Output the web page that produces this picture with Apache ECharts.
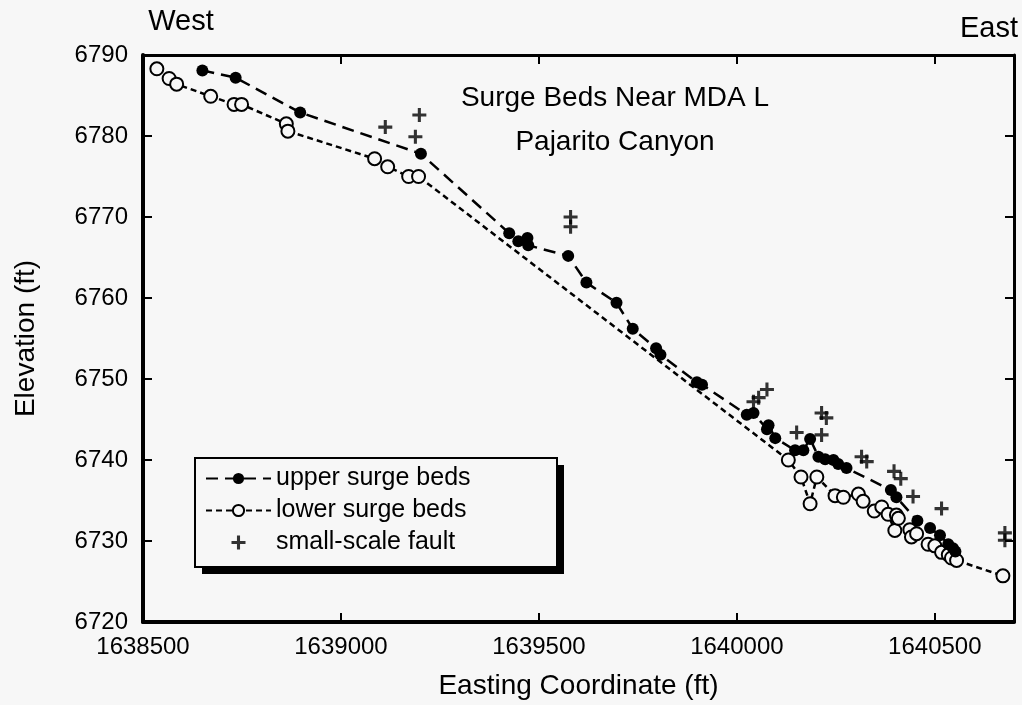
<!DOCTYPE html>
<html>
<head>
<meta charset="utf-8">
<script src="https://cdn.jsdelivr.net/npm/echarts@6/dist/echarts.min.js"></script>
<style>
html,body{margin:0;padding:0;background:#f7f7f7;}
#chart{width:1022px;height:705px;}
</style>
</head>
<body>
<div id="chart"></div>
<script>
// ---- data (easting ft, elevation ft) ----
const upperEasting = [1638650,1638734,1638897,1639202,1639425,1639448,1639471,1639473,1639574,1639620,1639696,1639737,1639796,1639807,1639899,1639912,1640025,1640042,1640076,1640080,1640097,1640147,1640168,1640185,1640206,1640223,1640244,1640256,1640277,1640389,1640403,1640456,1640488,1640513,1640534,1640546,1640552];
const upperElev    = [6788.1,6787.2,6782.9,6777.8,6768.0,6767.0,6767.4,6766.5,6765.2,6761.9,6759.4,6756.2,6753.8,6753.0,6749.6,6749.3,6745.6,6745.8,6743.8,6744.3,6742.7,6741.2,6741.2,6742.6,6740.4,6740.1,6740.0,6739.5,6739.0,6736.3,6735.4,6732.5,6731.6,6730.7,6729.6,6729.1,6728.7];

const lowerEasting = [1638535,1638566,1638585,1638671,1638730,1638749,1638862,1638866,1639085,1639118,1639171,1639196,1640130,1640162,1640185,1640202,1640248,1640269,1640307,1640319,1640347,1640366,1640382,1640399,1640403,1640408,1640437,1640441,1640454,1640483,1640500,1640517,1640534,1640542,1640555,1640672];
const lowerElev    = [6788.3,6787.1,6786.4,6784.9,6783.9,6783.9,6781.5,6780.6,6777.2,6776.2,6775.0,6775.0,6740.0,6737.9,6734.6,6737.9,6735.6,6735.4,6735.8,6734.9,6733.7,6734.2,6733.3,6731.3,6733.2,6732.8,6731.4,6730.5,6730.9,6729.6,6729.4,6728.6,6728.3,6727.9,6727.6,6725.7];

const faultEasting = [1639112,1639198,1639188,1639580,1639580,1640042,1640055,1640076,1640151,1640214,1640226,1640214,1640315,1640328,1640397,1640414,1640445,1640517,1640677,1640677];
const faultElev    = [6781.1,6782.6,6779.9,6770.0,6768.8,6747.2,6747.7,6748.7,6743.4,6745.8,6745.2,6743.1,6740.4,6739.8,6738.6,6737.7,6735.5,6734.0,6731.0,6730.1];

const seriesNames = ['upper surge beds','lower surge beds','small-scale fault'];
const xTicks = [1638500,1639000,1639500,1640000,1640500];
const yTicks = [6720,6730,6740,6750,6760,6770,6780,6790];

const zip = (a,b) => a.map((v,i)=>[v,b[i]]);
const BG = '#f7f7f7';
const FONT = '"Liberation Sans", Arial, Helvetica, sans-serif';
const PLUS = 'path://M3.9,0 L6.1,0 L6.1,3.9 L10,3.9 L10,6.1 L6.1,6.1 L6.1,10 L3.9,10 L3.9,6.1 L0,6.1 L0,3.9 L3.9,3.9 Z';

const chart = echarts.init(document.getElementById('chart'), null, {renderer:'canvas'});
const xFmt = v => xTicks.indexOf(v) >= 0 ? String(v) : '';
const yFmt = v => yTicks.indexOf(v) >= 0 ? String(v) : '';

chart.setOption({
  backgroundColor: BG,
  animation: false,
  textStyle: {fontFamily: FONT, color:'#000'},
  grid: {left:143, right:8, top:55, bottom:83, containLabel:false},
  xAxis: [{
    type:'value', min:1638500, max:1640700, interval:500, position:'bottom',
    axisLine:{show:true, onZero:false, lineStyle:{color:'#000', width:4}},
    axisTick:{show:true, inside:true, length:9, lineStyle:{color:'#000', width:2}},
    axisLabel:{formatter:xFmt, fontSize:24, color:'#000', margin:13, fontFamily:FONT},
    splitLine:{show:false},
    name:'Easting Coordinate (ft)', nameLocation:'middle', nameGap:50,
    nameTextStyle:{fontSize:28, color:'#000', fontFamily:FONT}
  },{
    type:'value', min:1638500, max:1640700, interval:500, position:'top',
    axisLine:{show:true, onZero:false, lineStyle:{color:'#000', width:3}},
    axisTick:{show:true, inside:true, length:9, lineStyle:{color:'#000', width:2}},
    axisLabel:{show:false}, splitLine:{show:false}
  }],
  yAxis: [{
    type:'value', min:6720, max:6790, interval:10, position:'left',
    axisLine:{show:true, onZero:false, lineStyle:{color:'#000', width:4}},
    axisTick:{show:true, inside:true, length:9, lineStyle:{color:'#000', width:2}},
    axisLabel:{formatter:yFmt, fontSize:24, color:'#000', margin:15, fontFamily:FONT},
    splitLine:{show:false},
    name:'Elevation (ft)', nameLocation:'middle', nameGap:103, nameRotate:90,
    nameTextStyle:{fontSize:28, color:'#000', fontFamily:FONT}
  },{
    type:'value', min:6720, max:6790, interval:10, position:'right',
    axisLine:{show:true, onZero:false, lineStyle:{color:'#000', width:3}},
    axisTick:{show:true, inside:true, length:9, lineStyle:{color:'#000', width:2}},
    axisLabel:{show:false}, splitLine:{show:false}
  }],
  legend: {
    orient:'vertical', left:195, top:458,
    data: seriesNames,
    itemWidth:65, itemHeight:14, itemGap:7,
    padding:[8,85,11,10],
    backgroundColor:'transparent', borderWidth:0,
    textStyle:{fontSize:25, color:'#000', fontFamily:FONT},
    selectedMode:false,
    z:10
  },
  graphic: [
    {type:'rect', z:5, shape:{x:202, y:465, width:362, height:109}, style:{fill:'#000'}},
    {type:'rect', z:6, shape:{x:195, y:458, width:362, height:109}, style:{fill:BG, stroke:'#000', lineWidth:2}},
    {type:'text', x:181, y:22, style:{text:'West', fontSize:29, fontFamily:FONT, fill:'#000', align:'center', verticalAlign:'middle'}},
    {type:'text', x:989, y:29, style:{text:'East', fontSize:29, fontFamily:FONT, fill:'#000', align:'center', verticalAlign:'middle'}},
    {type:'text', x:615, y:98, style:{text:'Surge Beds Near MDA L', fontSize:28, fontFamily:FONT, fill:'#000', align:'center', verticalAlign:'middle'}},
    {type:'text', x:615, y:142, style:{text:'Pajarito Canyon', fontSize:28, fontFamily:FONT, fill:'#000', align:'center', verticalAlign:'middle'}}
  ],
  series: [
    {
      name: seriesNames[0], type:'line', xAxisIndex:0, yAxisIndex:0,
      data: zip(upperEasting, upperElev),
      symbol:'circle', symbolSize:12, showAllSymbol:true,
      itemStyle:{color:'#000'},
      lineStyle:{color:'#000', width:2.5, type:[12,7]},
      z:3
    },
    {
      name: seriesNames[1], type:'line', xAxisIndex:0, yAxisIndex:0,
      data: zip(lowerEasting, lowerElev),
      symbol:'circle', symbolSize:13, showAllSymbol:true,
      itemStyle:{color:BG, borderColor:'#000', borderWidth:2},
      lineStyle:{color:'#000', width:2.5, type:[6,4]},
      z:2
    },
    {
      name: seriesNames[2], type:'scatter', xAxisIndex:0, yAxisIndex:0,
      data: zip(faultEasting, faultElev),
      symbol: PLUS, symbolSize:14,
      itemStyle:{color:'#000'},
      z:4
    }
  ]
});
</script>
</body>
</html>
